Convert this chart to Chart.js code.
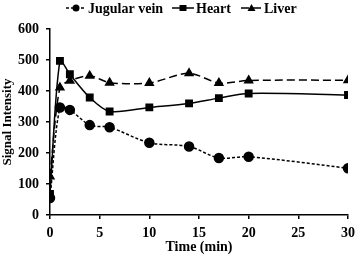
<!DOCTYPE html>
<html>
<head>
<meta charset="utf-8">
<script src="https://cdn.jsdelivr.net/npm/chart.js@4.4.1/dist/chart.umd.min.js"></script>
<style>
  body { margin: 0; background: #fff; }
  #chart { display: block; }
</style>
</head>
<body>
<canvas id="chart" width="361" height="258"></canvas>
<script>
// Time points (min)
const times = [0, 1, 2, 4, 6, 10, 14, 17, 20, 30];

// Signal intensity per region
const jugularVein = [55, 347, 339, 290, 283, 233, 221, 184, 188, 151];
const heart = [68, 497, 454, 379, 334, 347, 360, 377, 392, 387];
const liver = [124, 411, 433, 449, 427, 426, 457, 426, 434, 435];

const seriesNames = ["Jugular vein", "Heart", "Liver"];
const yTicks = [0, 100, 200, 300, 400, 500, 600];
const xTicks = [0, 5, 10, 15, 20, 25, 30];

const serif = "'Liberation Serif', 'Times New Roman', serif";

function toPoints(ys) {
  return times.map((t, i) => ({ x: t, y: ys[i] }));
}

// legend drawn by hand: dashed sample line + marker + label
const legendPlugin = {
  id: 'lineLegend',
  afterDraw(chart) {
    const ctx = chart.ctx;
    const items = [
      { x0: 66, text: 88 },
      { x0: 172, text: 196 },
      { x0: 241, text: 264 }
    ];
    const y = 8;
    ctx.save();
    chart.data.datasets.forEach((ds, i) => {
      const it = items[i];
      ctx.strokeStyle = '#000';
      ctx.lineWidth = 1.5;
      ctx.setLineDash(ds.borderDash || []);
      ctx.beginPath();
      ctx.moveTo(it.x0, y);
      ctx.lineTo(it.text - 2, y);
      ctx.stroke();
      ctx.setLineDash([]);
      const cx = (it.x0 + it.text - 2) / 2;
      ctx.fillStyle = '#000';
      ctx.beginPath();
      if (ds.pointStyle === 'circle') {
        ctx.arc(cx, y, 3.5, 0, Math.PI * 2);
      } else if (ds.pointStyle === 'rect') {
        ctx.rect(cx - 3.5, y - 3, 7, 6);
      } else {
        ctx.moveTo(cx, y - 4);
        ctx.lineTo(cx + 4, y + 3);
        ctx.lineTo(cx - 4, y + 3);
        ctx.closePath();
      }
      ctx.fill();
      ctx.font = "bold 14px " + serif;
      ctx.textBaseline = 'middle';
      ctx.textAlign = 'left';
      ctx.fillText(ds.label, it.text, y + 1);
    });
    ctx.restore();
  }
};

new Chart(document.getElementById("chart"), {
  type: 'line',
  data: {
    datasets: [
      {
        label: seriesNames[0],
        data: toPoints(jugularVein),
        borderColor: '#000',
        backgroundColor: '#000',
        borderWidth: 1.5,
        borderDash: [3, 2],
        pointStyle: 'circle',
        pointRadius: 4.5,
        tension: 0.3
      },
      {
        label: seriesNames[1],
        data: toPoints(heart),
        borderColor: '#000',
        backgroundColor: '#000',
        borderWidth: 1.5,
        pointStyle: 'rect',
        pointRadius: 4.5,
        tension: 0.3
      },
      {
        label: seriesNames[2],
        data: toPoints(liver),
        borderColor: '#000',
        backgroundColor: '#000',
        borderWidth: 1.5,
        borderDash: [8, 4],
        pointStyle: 'triangle',
        pointRadius: 4.5,
        tension: 0.3
      }
    ]
  },
  options: {
    responsive: false,
    animation: false,
    layout: { padding: { top: 29, right: 9, left: 0, bottom: 0 } },
    plugins: {
      legend: { display: false },
      tooltip: { enabled: false }
    },
    scales: {
      x: {
        type: 'linear',
        min: 0,
        max: 30,
        afterBuildTicks(scale) { scale.ticks = xTicks.map(v => ({ value: v })); },
        afterFit(scale) { scale.height = 43; },
        grid: { drawOnChartArea: false, drawTicks: true, tickLength: 4, color: '#000', lineWidth: 1.5 },
        border: { color: '#000', width: 1.5 },
        ticks: { color: '#000', padding: 6, maxRotation: 0, font: { family: serif, size: 14, weight: 'bold' } },
        title: { display: true, text: 'Time (min)', color: '#000', padding: { top: 0, bottom: 2 }, font: { family: serif, size: 14, weight: 'bold' } }
      },
      y: {
        min: 0,
        max: 600,
        afterBuildTicks(scale) { scale.ticks = yTicks.map(v => ({ value: v })); },
        afterFit(scale) { scale.width = 50; },
        grid: { drawOnChartArea: false, drawTicks: true, tickLength: 4, color: '#000', lineWidth: 1.5 },
        border: { color: '#000', width: 1.5 },
        ticks: { color: '#000', padding: 7, font: { family: serif, size: 14, weight: 'bold' } },
        title: { display: true, text: 'Signal Intensity', color: '#000', padding: { top: 0, bottom: 2 }, font: { family: serif, size: 13, weight: 'bold' } }
      }
    }
  },
  plugins: [legendPlugin]
});
</script>
</body>
</html>
